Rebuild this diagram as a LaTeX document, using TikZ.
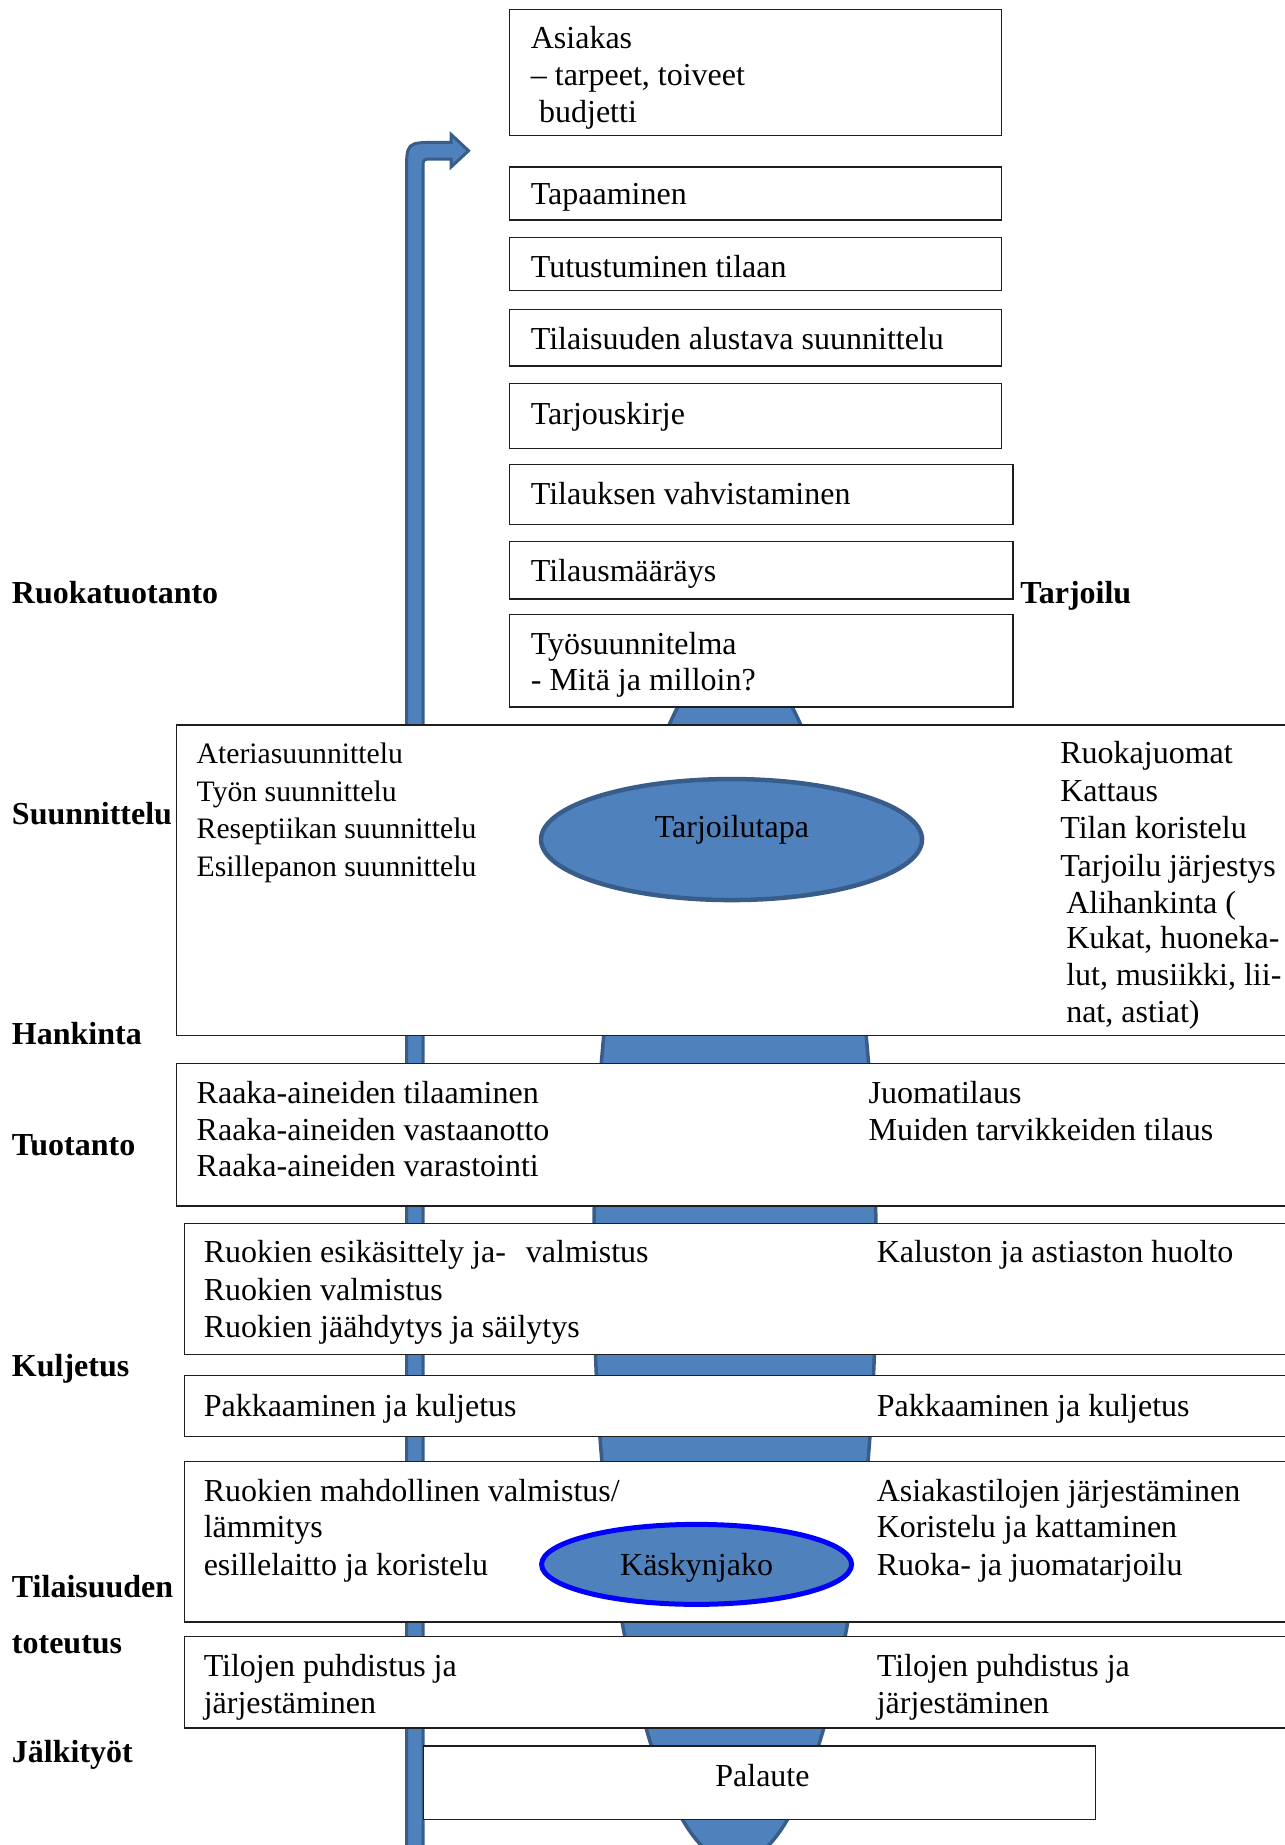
\documentclass[tikz,border=0pt]{standalone}
\usepackage{fontspec}
\setmainfont{Liberation Serif}
\usetikzlibrary{shapes.geometric,fit}
\definecolor{accentblue}{RGB}{79,129,189}
\definecolor{accentedge}{RGB}{56,93,138}
\definecolor{boxline}{RGB}{30,30,30}
\definecolor{ringblue}{RGB}{0,0,255}

\begin{document}
\begin{tikzpicture}[x=1.1767pt,y=-1.1767pt,
  stepbox/.style={draw=boxline, line width=1.4pt, fill=white, inner sep=0pt},
  txt/.style={anchor=west, inner sep=0pt, font=\fontsize{32}{37}\selectfont,
              text height=28pt, text depth=7pt},
  smalltxt/.style={txt, font=\fontsize{29.7}{37}\selectfont},
  ctxt/.style={txt, anchor=center},
  phase/.style={txt, font=\bfseries\fontsize{32}{38}\selectfont},
  blueshape/.style={fill=accentblue, draw=accentedge, line width=3.5pt},
]
\useasboundingbox (0,0) rectangle (1092,1568);
\clip (0,0) rectangle (1092,1568);

% large background shape running through all phases
\draw[blueshape] (624.6,1070) ellipse [x radius=120, y radius=513];

% feedback arrow returning to the customer
\coordinate (rettip) at (398.2,128.1);
\draw[blueshape, line width=3pt, line join=miter]
  (345.5,1580) -- (345.5,147) .. controls (345.5,121) .. (371.5,121)
  -- (383.3,121) -- (383.3,114.2) -- (rettip) -- (383.3,142) -- (383.3,135.2)
  -- (367,135.2) .. controls (359.5,135.2) .. (359.5,142.7) -- (359.5,1580) -- cycle;

% customer process steps
\node[stepbox, fit={(433,8) (851,115)}] (asiakas) {};
\node[stepbox, fit={(433,142) (851,187)}] (tapaaminen) {};
\node[stepbox, fit={(433,202) (851,247)}] (tutustuminen) {};
\node[stepbox, fit={(433,263) (851,311)}] (alustava) {};
\node[stepbox, fit={(433,326) (851,381)}] (tarjouskirje) {};
\node[stepbox, fit={(433,395) (861,446)}] (vahvistus) {};
\node[stepbox, fit={(433,460) (861,509)}] (maarays) {};
\node[stepbox, fit={(433,522) (861,601)}] (tyosuunnitelma) {};

\node[txt] (t1a) at (451,32) {Asiakas};
\node[txt] (t1b) at (451,64) {– tarpeet, toiveet};
\node[txt] (t1c) at (458,95) {budjetti};
\node[txt] (t2) at (451,165) {Tapaaminen};
\node[txt] (t3) at (451,227) {Tutustuminen tilaan};
\node[txt] (t4) at (451,288) {Tilaisuuden alustava suunnittelu};
\node[txt] (t5) at (451,352) {Tarjouskirje};
\node[txt] (t6) at (451,420) {Tilauksen vahvistaminen};
\node[txt] (t7) at (451,485) {Tilausmääräys};
\node[txt] (t8a) at (451,547) {Työsuunnitelma};
\node[txt] (t8b) at (451,578) {- Mitä ja milloin?};

% phase bands
\node[stepbox, fit={(150,616) (1110,880)}] (suunnittelu) {};
\node[stepbox, fit={(150,904) (1110,1025)}] (hankinta) {};
\node[stepbox, fit={(157,1040) (1110,1151)}] (tuotanto) {};
\node[stepbox, fit={(157,1169) (1110,1221)}] (kuljetus) {};
\node[stepbox, fit={(157,1242) (1110,1378.5)}] (toteutus) {};
\node[stepbox, fit={(157,1391) (1110,1468.5)}] (jalkityot) {};
\node[stepbox, fit={(360,1484) (931,1546.5)}] (palaute) {};

% central ovals
\node[ellipse, fill=accentblue, draw=accentedge, line width=4.5pt, inner sep=0pt,
      minimum width=381pt, minimum height=121pt] (tapa) at (621.7,713.5) {};
\node[ctxt] (tapatxt) at (622,703) {Tarjoilutapa};
\node[ellipse, fill=accentblue, draw=ringblue, line width=5pt, inner sep=0pt,
      minimum width=310pt, minimum height=80pt] (kasky) at (592,1329.5) {};
\node[ctxt] (kaskytxt) at (592,1330) {Käskynjako};

% left and right column labels
\node[phase] (lruoka) at (10,504) {Ruokatuotanto};
\node[phase] (ltarjoilu) at (867,504) {Tarjoilu};
\node[phase] (lsuunn) at (10,692) {Suunnittelu};
\node[phase] (lhank) at (10,879) {Hankinta};
\node[phase] (ltuot) at (10,973) {Tuotanto};
\node[phase] (lkulj) at (10,1161) {Kuljetus};
\node[phase] (ltil1) at (10,1349) {Tilaisuuden};
\node[phase] (ltil2) at (10,1396) {toteutus};
\node[phase] (ljalki) at (10,1489) {Jälkityöt};

% planning
\node[smalltxt] (s1) at (167,640) {Ateriasuunnittelu};
\node[smalltxt] (s2) at (167,672) {Työn suunnittelu};
\node[smalltxt] (s3) at (167,704) {Reseptiikan suunnittelu};
\node[smalltxt] (s4) at (167,736) {Esillepanon suunnittelu};
\node[txt] (r1) at (901,640) {Ruokajuomat};
\node[txt] (r2) at (901,672) {Kattaus};
\node[txt] (r3) at (901,704) {Tilan koristelu};
\node[txt] (r4) at (901,736) {Tarjoilu järjestys};
\node[txt] (r5) at (906,767) {Alihankinta (};
\node[txt] (r6) at (906,797) {Kukat, huoneka-};
\node[txt] (r7) at (906,829) {lut, musiikki, lii-};
\node[txt] (r8) at (906,860) {nat, astiat)};

% procurement
\node[txt] (h1) at (167,929) {Raaka-aineiden tilaaminen};
\node[txt] (h2) at (167,960) {Raaka-aineiden vastaanotto};
\node[txt] (h3) at (167,991) {Raaka-aineiden varastointi};
\node[txt] (h4) at (738,929) {Juomatilaus};
\node[txt] (h5) at (738,960) {Muiden tarvikkeiden tilaus};

% production
\node[txt] (p1) at (173,1064) {Ruokien esikäsittely ja-\hspace{20pt}valmistus};
\node[txt] (p2) at (173,1096) {Ruokien valmistus};
\node[txt] (p3) at (173,1128) {Ruokien jäähdytys ja säilytys};
\node[txt] (p4) at (745,1064) {Kaluston ja astiaston huolto};

% transport
\node[txt] (k1) at (173,1195) {Pakkaaminen ja kuljetus};
\node[txt] (k2) at (745,1195) {Pakkaaminen ja kuljetus};

% event
\node[txt] (e1) at (173,1267) {Ruokien mahdollinen valmistus/};
\node[txt] (e2) at (173,1298) {lämmitys};
\node[txt] (e3) at (173,1330) {esillelaitto ja koristelu};
\node[txt] (e4) at (745,1267) {Asiakastilojen järjestäminen};
\node[txt] (e5) at (745,1298) {Koristelu ja kattaminen};
\node[txt] (e6) at (745,1330) {Ruoka- ja juomatarjoilu};

% follow-up
\node[txt] (j1) at (173,1416) {Tilojen puhdistus ja};
\node[txt] (j2) at (173,1447) {järjestäminen};
\node[txt] (j3) at (745,1416) {Tilojen puhdistus ja};
\node[txt] (j4) at (745,1447) {järjestäminen};
\node[ctxt] (paltxt) at (648,1509) {Palaute};
\end{tikzpicture}
\end{document}
